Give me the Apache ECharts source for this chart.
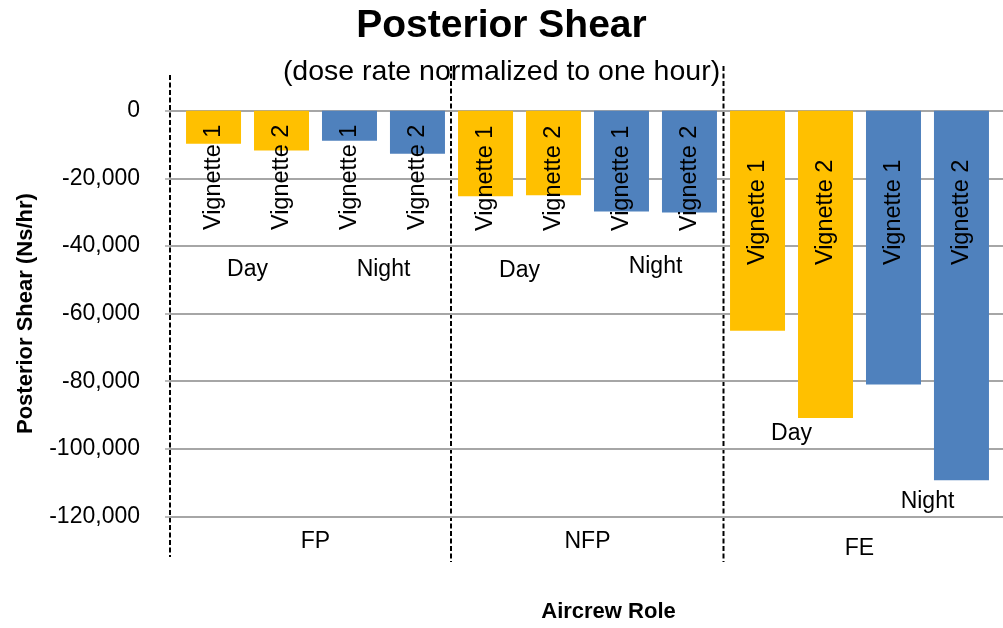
<!DOCTYPE html>
<html>
<head>
<meta charset="utf-8">
<title>Posterior Shear</title>
<script src="https://cdn.jsdelivr.net/npm/echarts@6/dist/echarts.min.js"></script>
<style>
  html, body { margin: 0; padding: 0; background: #fff; }
  #chart { width: 1003px; height: 628px; }
</style>
</head>
<body>
<div id="chart"></div>
<script>
// aircrew roles on the x axis
const categories = ['FP', 'NFP', 'FE']
// posterior shear (Ns/hr), one array per bar in each role group
const dayVignette1 = [-9800, -25400, -65300]
const dayVignette2 = [-11800, -25100, -91200]
const nightVignette1 = [-8900, -29900, -81300]
const nightVignette2 = [-12800, -30200, -109700]
const barNames = ['Vignette 1', 'Vignette 2', 'Vignette 1', 'Vignette 2']

// Day / Night captions under each pair of bars
const periodSlots = ['FP-Day', 'FP-Night', 'NFP-Day', 'NFP-Night', 'FE-Day', 'FE-Night']
const periodNames = ['Day', 'Night', 'Day', 'Night', 'Day', 'Night']
const periodLabelY = [-47100, -47100, -47400, -46200, -96000, -115900]

// y axis ticks
const yMin = -120000
const yMax = 0
const yStep = 20000

const FONT = '"Liberation Sans", Arial, sans-serif'
const YELLOW = '#FFC000'
const BLUE = '#4F81BD'

const chart = echarts.init(document.getElementById('chart'))

// how far below the zero line the rotated "Vignette" text starts, per role
const labelDrop = [14, 15, 49]

const makeBars = (values, name, color) => ({
  name,
  type: 'bar',
  xAxisIndex: 1,
  yAxisIndex: 1,
  barWidth: 55,
  barGap: '23.6%',
  itemStyle: { color },
  data: values.map((v, i) => ({
    value: v,
    label: { position: ['50%', labelDrop[i]] },
  })),
  label: {
    show: true,
    formatter: name,
    rotate: 90,
    align: 'right',
    verticalAlign: 'middle',
    fontFamily: FONT,
    fontSize: 23.5,
    color: '#000',
    textBorderWidth: 0,
  },
  silent: true,
  animation: false,
})

const gridBox = { top: 110.7, bottom: 111.5 }

const option = {
  backgroundColor: '#fff',
  animation: false,
  title: [
    {
      text: 'Posterior Shear',
      left: 'center',
      top: 7,
      padding: 0,
      textStyle: { fontFamily: FONT, fontSize: 39, fontWeight: 'bold', color: '#000' },
    },
    {
      text: '(dose rate normalized to one hour)',
      left: 'center',
      top: 58,
      padding: 0,
      textStyle: { fontFamily: FONT, fontSize: 28.5, fontWeight: 'normal', color: '#000' },
    },
  ],
  grid: [
    // grid 0: gridlines + y labels, spans full width
    { left: 170, right: 0, ...gridBox },
    // grid 1: the bars
    { left: 179.5, right: 7.5, ...gridBox },
  ],
  xAxis: [
    { type: 'category', gridIndex: 0, data: categories, show: false },
    {
      type: 'category',
      gridIndex: 1,
      data: categories,
      axisLine: { show: false },
      axisTick: { show: false },
      axisLabel: {
        interval: 0,
        margin: 14,
        fontFamily: FONT,
        color: '#000',
        formatter: (v) => (v === 'FE' ? '{low|' + v + '}' : '{std|' + v + '}'),
        rich: {
          std: { fontFamily: FONT, fontSize: 23, lineHeight: 26, color: '#000' },
          low: { fontFamily: FONT, fontSize: 23, lineHeight: 26, color: '#000', padding: [13, 0, 0, 0] },
        },
      },
      name: 'Aircrew Role',
      nameLocation: 'middle',
      nameGap: 86,
      nameTextStyle: {
        fontFamily: FONT,
        fontSize: 22,
        fontWeight: 'bold',
        color: '#000',
        padding: [0, 0, 0, 42],
      },
    },
    { type: 'category', gridIndex: 1, data: periodSlots, show: false },
  ],
  yAxis: [
    {
      type: 'value',
      gridIndex: 0,
      min: yMin,
      max: yMax,
      interval: yStep,
      axisLine: { show: false },
      axisTick: { show: true, length: 5, lineStyle: { color: '#a6a6a6', width: 1.5 } },
      splitLine: { lineStyle: { color: '#a6a6a6', width: 2 } },
      axisLabel: {
        margin: 30,
        fontFamily: FONT,
        fontSize: 23,
        color: '#000',
        formatter: (v) => v.toLocaleString('en-US'),
      },
      name: 'Posterior Shear (Ns/hr)',
      nameLocation: 'middle',
      nameRotate: 90,
      nameGap: 133,
      nameTextStyle: { fontFamily: FONT, fontSize: 22, fontWeight: 'bold', color: '#000' },
    },
    { type: 'value', gridIndex: 1, min: yMin, max: yMax, interval: yStep, show: false, splitLine: { show: false } },
  ],
  series: [
    makeBars(dayVignette1, barNames[0], YELLOW),
    makeBars(dayVignette2, barNames[1], YELLOW),
    makeBars(nightVignette1, barNames[2], BLUE),
    makeBars(nightVignette2, barNames[3], BLUE),
    {
      type: 'scatter',
      xAxisIndex: 2,
      yAxisIndex: 1,
      symbolSize: 0,
      silent: true,
      itemStyle: { color: '#000', opacity: 0 },
      data: periodSlots.map((s, i) => ({ value: [s, periodLabelY[i]], name: periodNames[i] })),
      label: {
        show: true,
        position: 'inside',
        formatter: (p) => p.name,
        fontFamily: FONT,
        fontSize: 23,
        color: '#000',
        opacity: 1,
        textBorderWidth: 0,
      },
    },
  ],
  graphic: [
    // dashed separators between the role groups
    { type: 'line', silent: true, shape: { x1: 170, y1: 75, x2: 170, y2: 557 }, style: { stroke: '#000', lineWidth: 2, lineDash: [5, 2.5] } },
    { type: 'line', silent: true, shape: { x1: 451, y1: 66, x2: 451, y2: 562 }, style: { stroke: '#000', lineWidth: 2, lineDash: [5, 2.5] } },
    { type: 'line', silent: true, shape: { x1: 723.5, y1: 66, x2: 723.5, y2: 562 }, style: { stroke: '#000', lineWidth: 2, lineDash: [5, 2.5] } },
  ],
}

chart.setOption(option)
window.addEventListener('resize', () => chart.resize())
</script>
</body>
</html>
